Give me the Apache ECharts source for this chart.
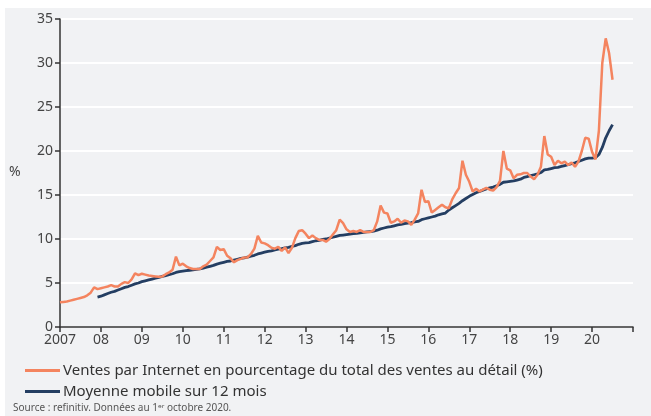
<!DOCTYPE html>
<html>
<head>
<meta charset="utf-8">
<script src="https://cdn.jsdelivr.net/npm/echarts@6/dist/echarts.min.js"></script>
<style>
  html, body { margin: 0; padding: 0; background: #fff; }
  #chart { width: 651px; height: 416px; }
</style>
</head>
<body>
<div id="chart"></div>
<script>
// premier mois : janvier 2007 (données mensuelles)
const startYear = 2007
// moyenne mobile : première valeur en décembre 2007
const maStart = 11

// Ventes par Internet en % du total des ventes au détail
const ventes2007 = [2.8, 2.85, 2.9, 3.0, 3.1, 3.2, 3.3, 3.4, 3.6, 3.9, 4.5, 4.3]
const ventes2008 = [4.4, 4.5, 4.6, 4.75, 4.6, 4.6, 4.9, 5.1, 5.0, 5.4, 6.1, 5.9]
const ventes2009 = [6.05, 5.95, 5.85, 5.8, 5.75, 5.7, 5.75, 6.0, 6.2, 6.5, 8.0, 7.0]
const ventes2010 = [7.2, 6.9, 6.7, 6.6, 6.6, 6.6, 6.9, 7.1, 7.5, 7.9, 9.1, 8.75]
const ventes2011 = [8.85, 8.1, 7.8, 7.35, 7.6, 7.75, 7.9, 7.9, 8.3, 8.9, 10.35, 9.6]
const ventes2012 = [9.5, 9.3, 9.0, 8.9, 9.1, 8.65, 9.05, 8.4, 9.0, 10.1, 10.9, 11.0]
const ventes2013 = [10.6, 10.1, 10.4, 10.1, 9.9, 9.9, 9.7, 10.0, 10.5, 11.0, 12.2, 11.8]
const ventes2014 = [11.1, 10.8, 10.9, 10.8, 11.0, 10.8, 10.8, 10.8, 11.0, 12.0, 13.8, 13.0]
const ventes2015 = [12.9, 11.85, 12.0, 12.3, 11.85, 12.1, 12.0, 11.6, 12.2, 12.9, 15.6, 14.2]
const ventes2016 = [14.3, 13.0, 13.3, 13.6, 13.9, 13.6, 13.5, 14.5, 15.2, 15.8, 18.9, 17.3]
const ventes2017 = [16.5, 15.4, 15.7, 15.4, 15.6, 15.8, 15.6, 15.5, 15.9, 16.6, 20.0, 18.0]
const ventes2018 = [17.8, 16.9, 17.3, 17.35, 17.5, 17.5, 17.1, 16.8, 17.3, 18.2, 21.7, 19.6]
const ventes2019 = [19.35, 18.4, 18.9, 18.6, 18.8, 18.4, 18.7, 18.2, 18.8, 20.0, 21.5, 21.4]
const ventes2020 = [19.9, 19.05, 22.3, 30.0, 32.8, 31.1, 28.1]

// Moyenne mobile sur 12 mois
const moyenne2007 = [3.4]
const moyenne2008 = [3.5, 3.65, 3.8, 3.95, 4.05, 4.2, 4.35, 4.5, 4.6, 4.75, 4.9, 5.0]
const moyenne2009 = [5.15, 5.25, 5.35, 5.45, 5.55, 5.65, 5.75, 5.85, 5.95, 6.05, 6.2, 6.3]
const moyenne2010 = [6.35, 6.4, 6.45, 6.5, 6.55, 6.6, 6.7, 6.8, 6.9, 7.0, 7.15, 7.25]
const moyenne2011 = [7.35, 7.45, 7.5, 7.6, 7.7, 7.8, 7.85, 7.95, 8.05, 8.15, 8.3, 8.4]
const moyenne2012 = [8.5, 8.6, 8.65, 8.75, 8.85, 8.9, 9.0, 9.05, 9.15, 9.25, 9.4, 9.5]
const moyenne2013 = [9.55, 9.6, 9.7, 9.8, 9.85, 9.95, 10.0, 10.1, 10.2, 10.3, 10.4, 10.45]
const moyenne2014 = [10.5, 10.55, 10.6, 10.65, 10.7, 10.75, 10.8, 10.85, 10.9, 11.0, 11.15, 11.25]
const moyenne2015 = [11.35, 11.4, 11.5, 11.6, 11.65, 11.75, 11.8, 11.85, 11.95, 12.0, 12.2, 12.3]
const moyenne2016 = [12.4, 12.5, 12.6, 12.75, 12.85, 12.95, 13.3, 13.55, 13.8, 14.05, 14.35, 14.6]
const moyenne2017 = [14.85, 15.05, 15.25, 15.4, 15.55, 15.7, 15.8, 15.9, 16.05, 16.2, 16.45, 16.5]
const moyenne2018 = [16.55, 16.6, 16.7, 16.8, 17.0, 17.1, 17.2, 17.3, 17.4, 17.55, 17.85, 17.9]
const moyenne2019 = [18.0, 18.1, 18.15, 18.25, 18.35, 18.45, 18.55, 18.65, 18.8, 18.95, 19.1, 19.2]
const moyenne2020 = [19.2, 19.25, 19.6, 20.4, 21.5, 22.3, 23.0]

// axes
const yearTicks = ['2007', '08', '09', '10', '11', '12', '13', '14', '15', '16', '17', '18', '19', '20', '']
const yTicks = [0, 5, 10, 15, 20, 25, 30, 35]

const legendNames = [
  'Ventes par Internet en pourcentage du total des ventes au détail (%)',
  'Moyenne mobile sur 12 mois'
]
const sourceText = 'Source : refinitiv. Données au 1ᵉʳ octobre 2020.'

const ventes = [].concat(ventes2007, ventes2008, ventes2009, ventes2010, ventes2011,
  ventes2012, ventes2013, ventes2014, ventes2015, ventes2016, ventes2017, ventes2018,
  ventes2019, ventes2020)
const moyenne = [].concat(moyenne2007, moyenne2008, moyenne2009, moyenne2010, moyenne2011,
  moyenne2012, moyenne2013, moyenne2014, moyenne2015, moyenne2016, moyenne2017, moyenne2018,
  moyenne2019, moyenne2020)

// position de chaque mois sur l'axe des années
const toPoints = (arr, offset) => arr.map((v, i) => [startYear + (i + offset) / 12, v])

const font = '"Noto Sans", "Open Sans", sans-serif'
const chart = echarts.init(document.getElementById('chart'))

const option = {
  animation: false,
  textStyle: { fontFamily: font },
  graphic: [
    {
      type: 'rect',
      left: 5,
      top: 8,
      z: -10,
      shape: { width: 646, height: 408 },
      style: { fill: '#f1f2f4' }
    },
    {
      type: 'text',
      left: 9,
      top: 165,
      style: { text: '%', fill: '#444', font: '14px ' + font }
    },
    {
      type: 'text',
      left: 13,
      top: 403,
      style: { text: sourceText, fill: '#555', font: '10px ' + font }
    }
  ],
  grid: {
    left: 60,
    right: 18,
    top: 19,
    bottom: 89
  },
  legend: {
    orient: 'vertical',
    left: 20,
    top: 358,
    itemGap: 6,
    itemWidth: 35,
    itemHeight: 3,
    icon: 'rect',
    selectedMode: false,
    textStyle: { fontSize: 15, color: '#333', fontFamily: font, padding: [0, 0, 0, -2] },
    data: legendNames
  },
  xAxis: {
    type: 'value',
    min: 2007,
    max: 2021,
    interval: 1,
    axisLine: { lineStyle: { color: '#333', width: 1.5 } },
    axisTick: { length: 5, lineStyle: { color: '#333', width: 1.5 } },
    axisLabel: {
      color: '#444',
      fontSize: 14,
      margin: 6,
      formatter: (v) => yearTicks[v - startYear]
    },
    splitLine: { show: false }
  },
  yAxis: {
    type: 'value',
    min: yTicks[0],
    max: yTicks[yTicks.length - 1],
    interval: 5,
    axisLine: { show: true, lineStyle: { color: '#333', width: 1.5 } },
    axisTick: { show: true, length: 5, lineStyle: { color: '#333', width: 1.5 } },
    axisLabel: { color: '#444', fontSize: 14, margin: 7 },
    splitLine: { lineStyle: { color: '#ffffff', width: 2 } }
  },
  series: [
    {
      name: legendNames[0],
      type: 'line',
      data: toPoints(ventes, 0),
      showSymbol: false,
      lineStyle: { color: '#f4845f', width: 2.5 },
      itemStyle: { color: '#f4845f' },
      z: 3
    },
    {
      name: legendNames[1],
      type: 'line',
      data: toPoints(moyenne, maStart),
      showSymbol: false,
      lineStyle: { color: '#243e62', width: 2.8 },
      itemStyle: { color: '#243e62' },
      z: 2
    }
  ]
}
chart.setOption(option)
</script>
</body>
</html>
